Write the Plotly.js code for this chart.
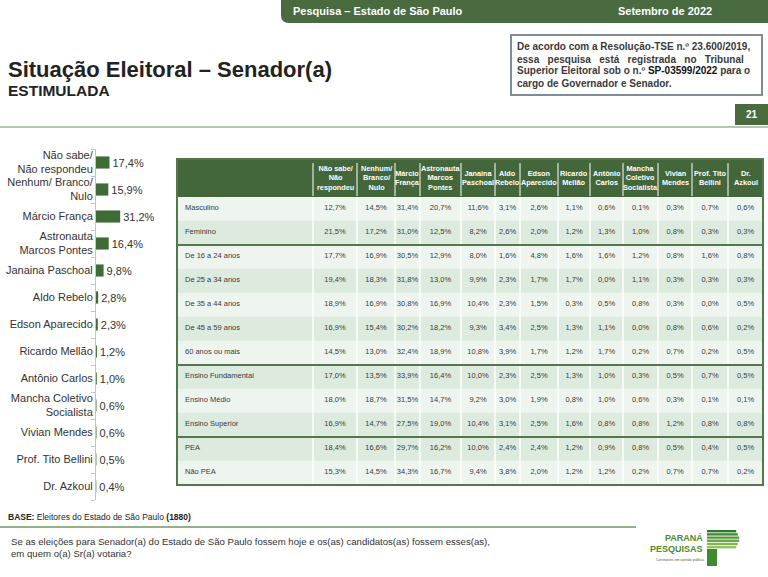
<!DOCTYPE html>
<html><head><meta charset="utf-8">
<script src="https://cdn.plot.ly/plotly-3.0.1.min.js"></script>
<style>html,body{margin:0;padding:0;background:#fff}#chart{width:768px;height:577px}</style>
</head><body><div id="chart"></div>
<script>
// ---------- DATA ----------
const candidates = ["Não sabe/ Não respondeu","Nenhum/ Branco/ Nulo","Márcio França","Astronauta Marcos Pontes","Janaina Paschoal","Aldo Rebelo","Edson Aparecido","Ricardo Mellão","Antônio Carlos","Mancha Coletivo Socialista","Vivian Mendes","Prof. Tito Bellini","Dr. Azkoul"];
const barTickLabels = ["Não sabe/<br>Não respondeu","Nenhum/ Branco/<br>Nulo","Márcio França","Astronauta<br>Marcos Pontes","Janaina Paschoal","Aldo Rebelo","Edson Aparecido","Ricardo Mellão","Antônio Carlos","Mancha Coletivo<br>Socialista","Vivian Mendes","Prof. Tito Bellini","Dr. Azkoul"];
const totalValues = [17.4,15.9,31.2,16.4,9.8,2.8,2.3,1.2,1.0,0.6,0.6,0.5,0.4];

const headerLabels = ["","Não sabe/<br>Não<br>respondeu","Nenhum/<br>Branco/<br>Nulo","Márcio<br>França","Astronauta<br>Marcos<br>Pontes","Janaina<br>Paschoal","Aldo<br>Rebelo","Edson<br>Aparecido","Ricardo<br>Mellão","Antônio<br>Carlos","Mancha<br>Coletivo<br>Socialista","Vivian<br>Mendes","Prof. Tito<br>Bellini","Dr.<br>Azkoul"];
const segments = ["Masculino","Feminino","De 16 a 24 anos","De 25 a 34 anos","De 35 a 44 anos","De 45 a 59 anos","60 anos ou mais","Ensino Fundamental","Ensino Médio","Ensino Superior","PEA","Não PEA"];
const masculino   = [12.7,14.5,31.4,20.7,11.6,3.1,2.6,1.1,0.6,0.1,0.3,0.7,0.6];
const feminino    = [21.5,17.2,31.0,12.5,8.2,2.6,2.0,1.2,1.3,1.0,0.8,0.3,0.3];
const idade16a24  = [17.7,16.9,30.5,12.9,8.0,1.6,4.8,1.6,1.6,1.2,0.8,1.6,0.8];
const idade25a34  = [19.4,18.3,31.8,13.0,9.9,2.3,1.7,1.7,0.0,1.1,0.3,0.3,0.3];
const idade35a44  = [18.9,16.9,30.8,16.9,10.4,2.3,1.5,0.3,0.5,0.8,0.3,0.0,0.5];
const idade45a59  = [16.9,15.4,30.2,18.2,9.3,3.4,2.5,1.3,1.1,0.0,0.8,0.6,0.2];
const idade60mais = [14.5,13.0,32.4,18.9,10.8,3.9,1.7,1.2,1.7,0.2,0.7,0.2,0.5];
const ensFund     = [17.0,13.5,33.9,16.4,10.0,2.3,2.5,1.3,1.0,0.3,0.5,0.7,0.5];
const ensMedio    = [18.0,18.7,31.5,14.7,9.2,3.0,1.9,0.8,1.0,0.6,0.3,0.1,0.1];
const ensSuperior = [16.9,14.7,27.5,19.0,10.4,3.1,2.5,1.6,0.8,0.8,1.2,0.8,0.8];
const pea         = [18.4,16.6,29.7,16.2,10.0,2.4,2.4,1.2,0.9,0.8,0.5,0.4,0.5];
const naoPea      = [15.3,14.5,34.3,16.7,9.4,3.8,2.0,1.2,1.2,0.2,0.7,0.7,0.2];
const segmentRows = [masculino,feminino,idade16a24,idade25a34,idade35a44,idade45a59,idade60mais,ensFund,ensMedio,ensSuperior,pea,naoPea];
const groupEnds = [2,7,10]; // row counts after which a group separator is drawn

// ---------- HELPERS ----------
const W = 768, H = 577;
const fx = x => x / W;
const fy = y => 1 - y / H;
const fmt = v => v.toFixed(1).replace('.', ',') + '%';
const GREEN = '#4a6a3f';
const FONT = 'Liberation Sans, Arial, sans-serif';

// ---------- BAR CHART ----------
const barTrace = {
  type: 'bar', orientation: 'h',
  x: totalValues, y: candidates,
  marker: {color: '#3f6b37'},
  text: totalValues.map(fmt), textposition: 'outside',
  textfont: {family: FONT, size: 11, color: '#333'},
  cliponaxis: false, hoverinfo: 'none',
  xaxis: 'x', yaxis: 'y'
};

// ---------- TABLE ----------
const tblLeft = 177, tblRight = 763, tblTop = 159, headerH = 38, rowH = 24;
const bodyTop = tblTop + headerH;
const tblBottom = bodyTop + rowH * segments.length;
const textShift = 1; // compensates for the table's top-aligned cell text
const colWidths = [136,44,38,25,41,34,25,38,32,33,35,34,36,35];
const rowFills = ['#eef5ef','#dcebdd','#eef5ef','#dcebdd','#eef5ef','#dcebdd','#eef5ef','#dcebdd','#eef5ef','#dcebdd','#dcebdd','#eef5ef'];
const cellColumns = [segments].concat(candidates.map((c, j) => segmentRows.map(r => fmt(r[j]))));
const colScale = (tblRight - tblLeft) / colWidths.reduce((a, b) => a + b, 0);
const colEdges = [tblLeft];
colWidths.forEach(w => colEdges.push(colEdges[colEdges.length - 1] + w * colScale));

const tableTrace = {
  type: 'table',
  domain: {x: [fx(tblLeft), fx(tblRight)], y: [fy(tblBottom - textShift + 2), fy(tblTop - textShift)]},
  columnwidth: colWidths,
  header: {values: colWidths.map(() => ''), height: headerH, line: {width: 0, color: 'rgba(0,0,0,0)'}, fill: {color: 'rgba(0,0,0,0)'}},
  cells: {
    values: cellColumns,
    fill: {color: 'rgba(0,0,0,0)'},
    font: {family: FONT, size: 7.5, color: '#3a3a3a'},
    align: ['left'].concat(candidates.map(() => 'center')),
    height: rowH,
    line: {color: 'rgba(0,0,0,0)', width: 0}
  }
};

// ---------- SHAPES ----------
const shapes = [];
const prect = (x0, y0, x1, y1, fill, extra) => Object.assign({type: 'rect', xref: 'paper', yref: 'paper',
  x0: fx(x0), x1: fx(x1), y0: fy(y1), y1: fy(y0), fillcolor: fill, line: {width: 0}, layer: 'below'}, extra || {});
const pline = (x0, y0, x1, y1, color, width, extra) => Object.assign({type: 'line', xref: 'paper', yref: 'paper',
  x0: fx(x0), x1: fx(x1), y0: fy(y0), y1: fy(y1), line: {color, width}}, extra || {});
// top banner with rounded bottom-left corner
const bx0 = 281, bx1 = 768, by0 = 0, by1 = 23, r = 8;
shapes.push({type: 'path', xref: 'paper', yref: 'paper', layer: 'below',
  path: `M ${fx(bx0)} ${fy(by0)} L ${fx(bx1)} ${fy(by0)} L ${fx(bx1)} ${fy(by1)} L ${fx(bx0 + r)} ${fy(by1)} Q ${fx(bx0)} ${fy(by1)} ${fx(bx0)} ${fy(by1 - r)} Z`,
  fillcolor: GREEN, line: {width: 0}});
// registration box
shapes.push(prect(511, 35, 762, 95, '#ffffff', {line: {color: '#7f8c95', width: 2}}));
// page number box
shapes.push(prect(735, 104, 768, 125, GREEN));
// header rule
shapes.push(pline(0, 127, 768, 127, '#b7c5b2', 2));
// table header and row backgrounds
shapes.push(prect(tblLeft, tblTop, tblRight, bodyTop, '#43663a'));
rowFills.forEach((c, i) => shapes.push(prect(tblLeft, bodyTop + rowH * i, tblRight, bodyTop + rowH * (i + 1), c)));
// column separators
colEdges.slice(1, -1).forEach(x => {
  shapes.push(pline(x, tblTop + 4, x, bodyTop - 1, '#ffffff', 1, {layer: 'below'}));
  shapes.push(pline(x, bodyTop, x, tblBottom, 'rgba(255,255,255,0.9)', 1.5, {layer: 'below'}));
});
// table outer border and group separators
shapes.push({type: 'rect', xref: 'paper', yref: 'paper', x0: fx(tblLeft), x1: fx(tblRight), y0: fy(tblBottom), y1: fy(tblTop),
  line: {color: '#56774d', width: 2}});
groupEnds.forEach(k => {
  const yy = bodyTop + rowH * k;
  shapes.push(pline(tblLeft, yy, tblRight, yy, '#56774d', 2));
});
// base rule
shapes.push(pline(0, 527, 636, 527, '#6f9662', 1.5));
// logo stripes (P shape)
const stripeColors = ['#2f7a2a','#3f8a30','#56993a','#6aa845','#7fb552','#95c262'];
stripeColors.forEach((c, i) => {
  const y0 = 530 + i * 3.2;
  shapes.push(prect(707, y0, 740 - Math.abs(i - 2.5) * 1.5, y0 + 2.4, c));
});
shapes.push(prect(707, 549, 717, 566, '#3f8a30'));

// ---------- ANNOTATIONS ----------
const ann = (x, y, text, opts) => Object.assign({xref: 'paper', yref: 'paper', x: fx(x), y: fy(y), text,
  showarrow: false, xanchor: 'left', yanchor: 'middle', font: {family: FONT, size: 10, color: '#333'}}, opts || {});
const regFont = {family: FONT, size: 10, color: '#3a3a3a'};
const annotations = [
  ann(378, 11, '<b>Pesquisa – Estado de São Paulo</b>', {xanchor: 'center', font: {family: FONT, size: 11, color: '#fff'}}),
  ann(665, 11, '<b>Setembro de 2022</b>', {xanchor: 'center', font: {family: FONT, size: 11, color: '#fff'}}),
  ann(6, 69, '<b>Situação Eleitoral – Senador(a)</b>', {font: {family: FONT, size: 22, color: '#222'}}),
  ann(6, 90, '<b>ESTIMULADA</b>', {font: {family: FONT, size: 15.5, color: '#222'}}),
  ann(515, 47, '<b>De acordo com a Resolução-TSE n.º 23.600/2019,</b>', {font: regFont}),
  ann(515, 59, '<b>essa   pesquisa   está   registrada   no   Tribunal</b>', {font: regFont}),
  ann(515, 71, '<b>Superior Eleitoral sob o n.º <span style="color:#111">SP-03599/2022</span> para o</b>', {font: regFont}),
  ann(515, 83, '<b>cargo de Governador e Senador.</b>', {font: regFont}),
  ann(751.5, 115, '<b>21</b>', {xanchor: 'center', font: {family: FONT, size: 10, color: '#fff'}}),
  ann(6, 517, '<b>BASE:</b> Eleitores do Estado de São Paulo <b>(1880)</b>', {font: {family: FONT, size: 8.5, color: '#222'}}),
  ann(9, 541, 'Se as eleições para Senador(a) do Estado de São Paulo fossem hoje e os(as) candidatos(as) fossem esses(as),', {font: {family: FONT, size: 9.6, color: '#333'}}),
  ann(9, 553, 'em quem o(a) Sr(a) votaria?', {font: {family: FONT, size: 9.6, color: '#333'}}),
  ann(705, 538, '<b>PARANÁ</b>', {xanchor: 'right', font: {family: FONT, size: 9, color: '#4f8a2c'}}),
  ann(705, 549, '<b>PESQUISAS</b>', {xanchor: 'right', font: {family: FONT, size: 9, color: '#4f8a2c'}}),
  ann(680, 560, 'Constantes em opinião pública', {xanchor: 'center', font: {family: FONT, size: 3.5, color: '#555'}})
];
// table header labels, centred in each column
headerLabels.forEach((t, i) => {
  if (!t) return;
  annotations.push(ann((colEdges[i] + colEdges[i + 1]) / 2, tblTop + headerH / 2, '<b>' + t + '</b>',
    {xanchor: 'center', align: 'center', font: {family: FONT, size: 7.3, color: '#ffffff'}}));
});

const layout = {
  width: W, height: H,
  margin: {l: 0, r: 0, t: 0, b: 0},
  paper_bgcolor: '#fff', plot_bgcolor: 'rgba(0,0,0,0)',
  showlegend: false,
  font: {family: FONT},
  bargap: 0.55,
  xaxis: {domain: [fx(96), fx(127)], range: [0, 40], visible: false, fixedrange: true},
  yaxis: {domain: [fy(500), fy(149)], type: 'category', autorange: 'reversed',
    tickvals: candidates, ticktext: barTickLabels,
    showline: true, linecolor: '#c4c4c4', linewidth: 1,
    ticks: 'outside', tickson: 'boundaries', ticklen: 4, tickcolor: '#c4c4c4',
    tickfont: {family: FONT, size: 11, color: '#333'}, showgrid: false, zeroline: false},
  shapes, annotations
};

Plotly.newPlot('chart', [barTrace, tableTrace], layout, {staticPlot: true, displayModeBar: false});
</script></body></html>
